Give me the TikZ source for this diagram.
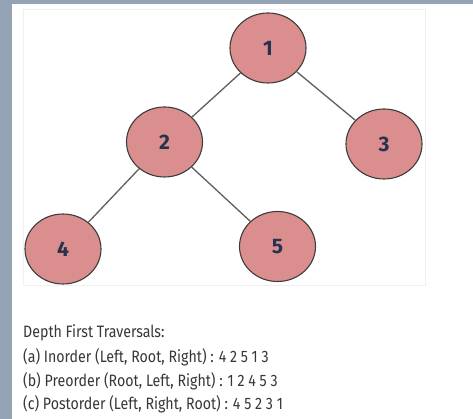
\documentclass[tikz,border=0pt]{standalone}
\usepackage{fontspec}
\setmainfont{Fira Sans}
\newfontfamily\condfont[FakeStretch=0.86]{Fira Sans}
\definecolor{stripc}{RGB}{148,163,179}
\definecolor{nodefill}{RGB}{218,143,142}
\definecolor{nodeline}{RGB}{60,60,60}
\definecolor{edgec}{RGB}{95,95,95}
\definecolor{labelc}{RGB}{38,50,80}
\definecolor{textc}{RGB}{55,55,55}
\definecolor{boxc}{RGB}{240,240,240}
\tikzset{
  treenode/.style={ellipse, draw=nodeline, line width=1.1pt, fill=nodefill,
    minimum width=76pt, minimum height=70pt, inner sep=0pt,
    font=\fontsize{21}{21}\selectfont\bfseries, text=labelc},
  edge/.style={draw=edgec, line width=1.3pt},
  trav/.style={anchor=base west, inner sep=0pt, text=textc,
    font=\condfont\fontsize{16.5}{18}\selectfont}
}
\usetikzlibrary{shapes.geometric}
\begin{document}
\begin{tikzpicture}[x=1pt,y=1pt]
\useasboundingbox (0,0) rectangle (473,419);
\fill[stripc] (0,0) rectangle (473,419);
\fill[white] (12,0) rectangle (473,415);
\draw[boxc, line width=1pt] (23,133) rectangle (425,409);
\node[treenode] (n1) at (268,371) {1};
\node[treenode] (n2) at (164.5,277) {2};
\node[treenode] (n3) at (384,275) {3};
\node[treenode] (n4) at (63,170) {4};
\node[treenode] (n5) at (277.5,172.5) {5};
\draw[edge] (n1) -- (n2);
\draw[edge] (n1) -- (n3);
\draw[edge] (n2) -- (n4);
\draw[edge] (n2) -- (n5);
\node[trav] (t0) at (23,81) {Depth First Traversals:};
\node[trav] (t1) at (23,56) {(a) Inorder (Left, Root, Right) : 4 2 5 1 3};
\node[trav] (t2) at (23,32) {(b) Preorder (Root, Left, Right) : 1 2 4 5 3};
\node[trav] (t3) at (23,9) {(c) Postorder (Left, Right, Root) : 4 5 2 3 1};
\end{tikzpicture}
\end{document}
